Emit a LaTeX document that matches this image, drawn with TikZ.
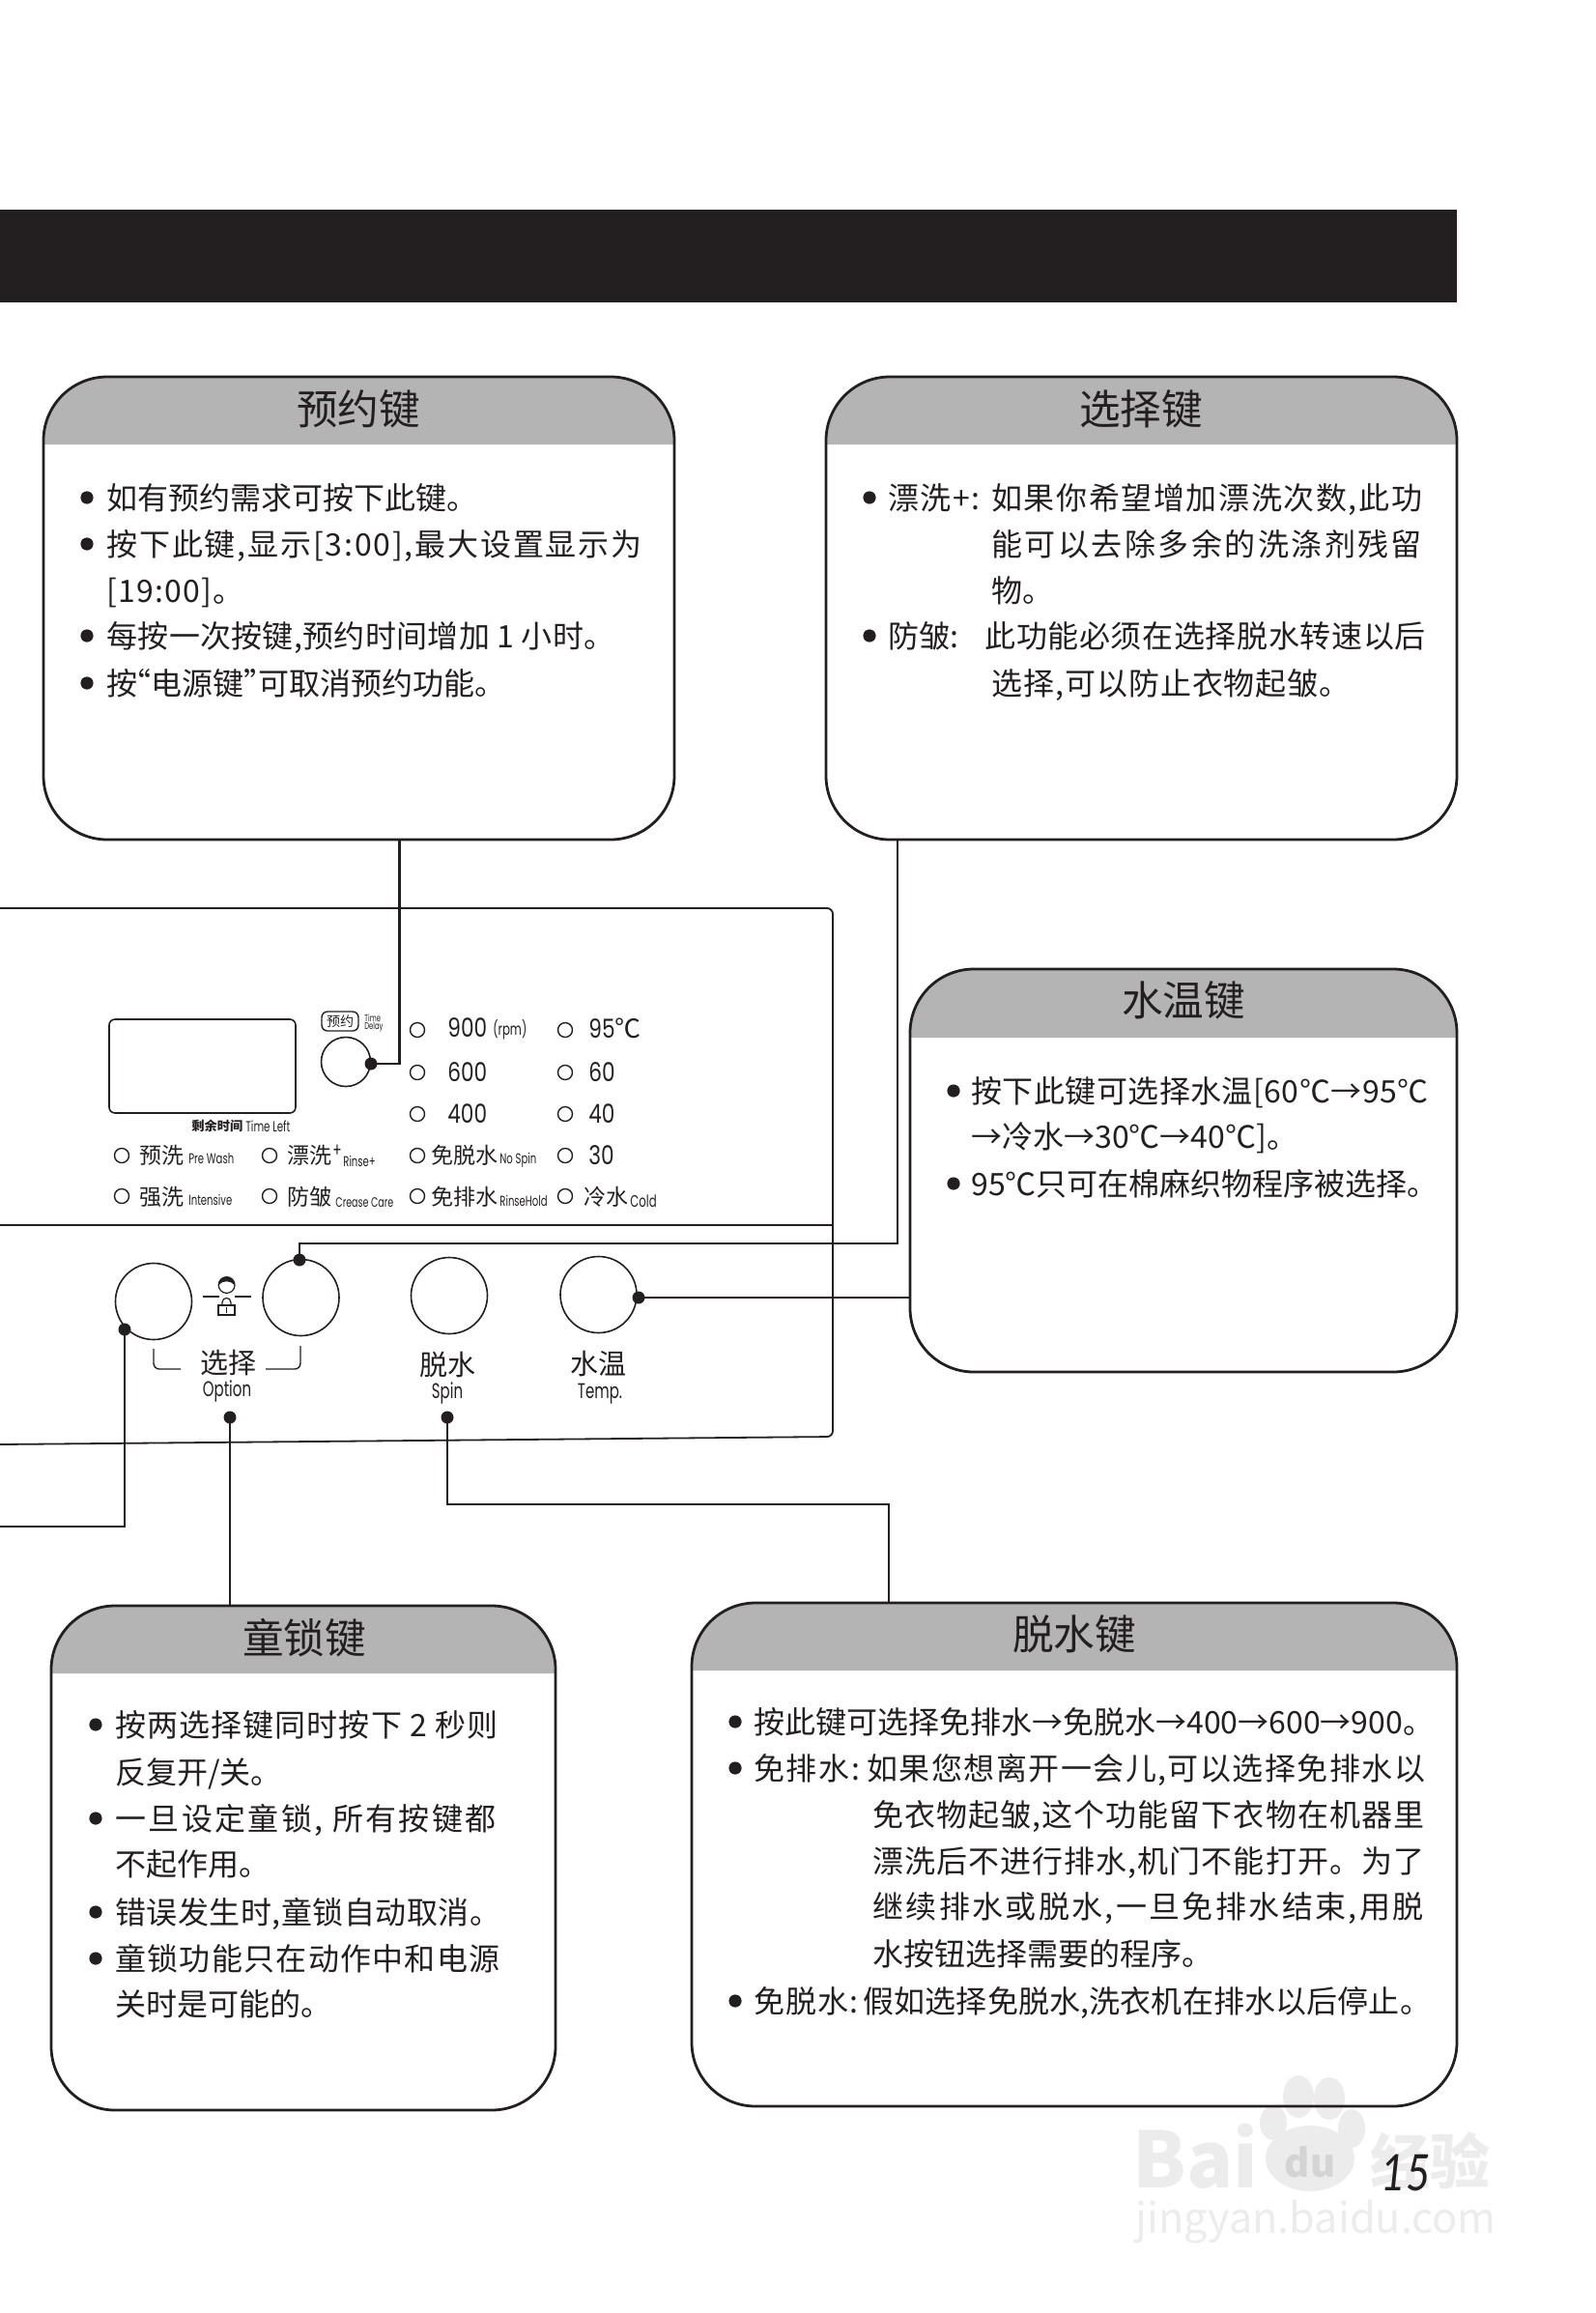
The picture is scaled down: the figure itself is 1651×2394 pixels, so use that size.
\documentclass[tikz,border=0pt]{standalone}
\usepackage{fontspec}
\setmainfont{Noto Sans CJK SC}
\newfontfamily\panelfont[FakeStretch=0.8]{Poppins}
\newfontfamily\tinyfont[FakeStretch=0.68]{Poppins}
\newfontfamily\pagefont[FakeStretch=0.85]{Lato}
\newcommand{\trk}[1]{\addfontfeature{LetterSpace=#1}}
\usepackage{tikz}
\usetikzlibrary{positioning}
\usetikzlibrary{fit}

\definecolor{inkblack}{HTML}{231F20}
\definecolor{headgray}{HTML}{B4B4B4}
\definecolor{markgray}{HTML}{ECECEC}
\definecolor{markdark}{HTML}{D4D4D4}

\tikzset{
    infobox/.style={draw=inkblack, line width=1.4pt, rounded corners=33pt, inner sep=0pt},
    headfill/.style={fill=headgray},
    boxtitle/.style={text=inkblack, font=\fontsize{21.3}{21.3}\selectfont, inner sep=0pt},
    bodytext/.style={text=inkblack, anchor=west, inner sep=0pt, text height=15.5pt, text depth=3pt, font=\fontsize{16}{16}\selectfont},
    lead/.style={draw=inkblack, line width=1.2pt},
    hotdot/.style={circle, fill=inkblack, inner sep=0pt, minimum size=6.5pt},
    knob/.style={circle, draw=inkblack, line width=.8pt, inner sep=0pt, minimum size=39.5pt},
    lamp/.style={circle, draw=inkblack, line width=.7pt, inner sep=0pt, minimum size=7.5pt},
    paneltext/.style={text=inkblack, anchor=west, inner sep=0pt, font=\panelfont\fontsize{13.5}{13.5}\selectfont},
    panelcjk/.style={text=inkblack, anchor=west, inner sep=0pt, font=\fontsize{11.5}{11.5}\selectfont},
    tinytext/.style={text=inkblack, anchor=west, inner sep=0pt, font=\tinyfont\fontsize{7.4}{7.4}\selectfont},
    keycjk/.style={text=inkblack, inner sep=0pt, font=\fontsize{14.5}{14.5}\selectfont},
    keyname/.style={text=inkblack, inner sep=0pt, font=\tinyfont\fontsize{11}{11}\selectfont},
    waterbig/.style={text=markgray, inner sep=0pt, font=\bfseries\fontsize{40}{40}\selectfont},
}

\begin{document}
\begin{tikzpicture}[x=.5pt,y=-.5pt]
    \useasboundingbox (0,0) rectangle (1651,2394);

    % watermark
    \node[waterbig, anchor=west] (markbai) at (1172,2232) {Bai};
    \fill[markgray] (1356,2234) ellipse (23pt and 17pt);
    \fill[markgray] (1344,2170) ellipse (8pt and 11pt);
    \fill[markgray] (1376,2172) ellipse (8pt and 11pt);
    \fill[markgray] (1318,2197) ellipse (7pt and 9pt);
    \fill[markgray] (1399,2203) ellipse (7pt and 10pt);
    \node[text=markdark, inner sep=0pt, font=\bfseries\fontsize{20}{20}\selectfont] (markdu) at (1356,2238) {du};
    \node[waterbig, anchor=west, font=\bfseries\fontsize{31}{31}\selectfont] (markjing) at (1418,2236) {经验};
    \node[waterbig, anchor=center, font=\fontsize{21.6}{21.6}\selectfont] (markurl) at (1362,2300) {jingyan.baidu.com};

    % top bar
    \fill[inkblack] (0,217) rectangle (1508,313);

    % header bands
    \fill[headfill] (45,460) [rounded corners=33pt] -- (45,390) -- (698,390) [sharp corners] -- (698,460) -- cycle;
    \fill[headfill] (855,460) [rounded corners=33pt] -- (855,390) -- (1508,390) [sharp corners] -- (1508,460) -- cycle;
    \fill[headfill] (942,1074) [rounded corners=33pt] -- (942,1003) -- (1508,1003) [sharp corners] -- (1508,1074) -- cycle;
    \fill[headfill] (53,1732) [rounded corners=33pt] -- (53,1662) -- (575,1662) [sharp corners] -- (575,1732) -- cycle;
    \fill[headfill] (716,1729) [rounded corners=33pt] -- (716,1659) -- (1508,1659) [sharp corners] -- (1508,1729) -- cycle;

    % boxes
    \node[infobox, fit={(45,390)(698,869)}] (delaybox) {};
    \node[infobox, fit={(855,390)(1508,869)}] (optionbox) {};
    \node[infobox, fit={(942,1003)(1508,1420)}] (tempbox) {};
    \node[infobox, fit={(53,1662)(575,2184)}] (lockbox) {};
    \node[infobox, fit={(716,1659)(1508,2180)}] (spinbox) {};

    \node[boxtitle] (delaytitle) at (371,423) {预约键};
    \node[boxtitle] (optiontitle) at (1181,423) {选择键};
    \node[boxtitle] (temptitle) at (1225,1035) {水温键};
    \node[boxtitle] (locktitle) at (315,1695) {童锁键};
    \node[boxtitle] (spintitle) at (1112,1691) {脱水键};

    % delay box text
    \foreach \y in {515,563,658,707}
        \fill[inkblack] (90,\y) circle[radius=3.3pt];
    \node[bodytext] (delayA) at (110,515) {如有预约需求可按下此键。};
    \node[bodytext] (delayB) at (110,563) {\trk{5.7}按下此键,显示[3:00],最大设置显示为};
    \node[bodytext] (delayC) at (110,611) {\trk{4}[19:00]。};
    \node[bodytext] (delayD) at (110,658) {\trk{1}每按一次按键,预约时间增加 1 小时。};
    \node[bodytext] (delayE) at (110,707) {按\hspace{-.55em}“电源键”\hspace{-.55em}可取消预约功能。};

    % option box text
    \foreach \y in {515,658}
        \fill[inkblack] (900,\y) circle[radius=3.3pt];
    \node[bodytext] (optionA) at (919,515) {\trk{5}漂洗+:};
    \node[bodytext] (optionB) at (1026,515) {\trk{5}如果你希望增加漂洗次数,此功};
    \node[bodytext] (optionC) at (1026,563) {\trk{7.7}能可以去除多余的洗涤剂残留};
    \node[bodytext] (optionD) at (1026,611) {物。};
    \node[bodytext] (optionE) at (919,658) {防皱:};
    \node[bodytext] (optionF) at (1019,658) {\trk{2}此功能必须在选择脱水转速以后};
    \node[bodytext] (optionG) at (1026,707) {\trk{3}选择,可以防止衣物起皱。};

    % temp box text
    \foreach \y in {1129,1225}
        \fill[inkblack] (987,\y) circle[radius=3.3pt];
    \node[bodytext] (tempA) at (1005,1129) {\trk{1.4}按下此键可选择水温[60℃→95℃};
    \node[bodytext] (tempB) at (1005,1176) {→冷水→30℃→40℃]。};
    \node[bodytext] (tempC) at (1005,1225) {95℃只可在棉麻织物程序被选择。};

    % lock box text
    \foreach \y in {1785,1882,1979,2027}
        \fill[inkblack] (99,\y) circle[radius=3.3pt];
    \node[bodytext] (lockA) at (119,1785) {\trk{3.4}按两选择键同时按下 2 秒则};
    \node[bodytext] (lockB) at (119,1834) {反复开/关。};
    \node[bodytext] (lockC) at (119,1882) {\trk{7.4}一旦设定童锁, 所有按键都};
    \node[bodytext] (lockD) at (119,1929) {不起作用。};
    \node[bodytext] (lockE) at (119,1979) {\trk{1.5}错误发生时,童锁自动取消。};
    \node[bodytext] (lockF) at (119,2027) {\trk{4}童锁功能只在动作中和电源};
    \node[bodytext] (lockG) at (119,2074) {关时是可能的。};

    % spin box text
    \foreach \y in {1782,1830,2071}
        \fill[inkblack] (761,\y) circle[radius=3.3pt];
    \node[bodytext] (spinA) at (780,1782) {按此键可选择免排水→免脱水→400→600→900。};
    \node[bodytext] (spinB) at (780,1830) {\trk{5}免排水:};
    \node[bodytext] (spinC) at (897,1830) {\trk{4.6}如果您想离开一会儿,可以选择免排水以};
    \node[bodytext] (spinD) at (903,1878) {\trk{3.3}免衣物起皱,这个功能留下衣物在机器里};
    \node[bodytext] (spinE) at (903,1926) {\trk{3.3}漂洗后不进行排水,机门不能打开。为了};
    \node[bodytext] (spinF) at (903,1973) {\trk{7.4}继续排水或脱水,一旦免排水结束,用脱};
    \node[bodytext] (spinG) at (903,2022) {水按钮选择需要的程序。};
    \node[bodytext] (spinH) at (780,2071) {\trk{3}免脱水:};
    \node[bodytext] (spinI) at (893,2071) {\trk{.5}假如选择免脱水,洗衣机在排水以后停止。};

    % panel
    \draw[draw=inkblack, line width=.9pt, rounded corners=3pt] (0,940) -- (862,940) -- (862,1487) -- (0,1495);
    \draw[draw=inkblack, line width=1.1pt] (0,1268) -- (862,1268);
    \draw[draw=inkblack, line width=.8pt, rounded corners=3pt] (113,1055) rectangle (306,1152);

    \node[text=inkblack, anchor=west, inner sep=0pt, font=\bfseries\fontsize{6.6}{6.6}\selectfont] (leftcn) at (198,1165) {剩余时间};
    \node[tinytext, font=\tinyfont\fontsize{7.6}{7.6}\selectfont] (leften) at (254,1166) {Time Left};
    \node[draw=inkblack, line width=.7pt, rounded corners=3pt, inner sep=0pt, minimum width=19pt, minimum height=10pt, text=inkblack, font=\fontsize{7}{7}\selectfont] (delaytag) at (352,1057) {预约};
    \node[tinytext, font=\tinyfont\fontsize{5}{5}\selectfont] (delaytagA) at (377,1054) {Time};
    \node[tinytext, font=\tinyfont\fontsize{5}{5}\selectfont] (delaytagB) at (377,1063) {Delay};

    % lamps
    \foreach \n/\x/\y in {a/432/1066,b/432/1110,c/432/1153,d/432/1196,e/432/1238,f/585/1066,g/585/1110,h/585/1153,i/585/1196,j/585/1238,k/126/1196,l/126/1238,m/279/1196,n/279/1238}
        \node[lamp] (lamp\n) at (\x,\y) {};

    \node[paneltext] (rpmA) at (463,1064) {900};
    \node[tinytext, font=\tinyfont\fontsize{8.6}{8.6}\selectfont] (rpmunit) at (510,1066) {(rpm)};
    \node[paneltext] (rpmB) at (463,1110) {600};
    \node[paneltext] (rpmC) at (463,1153) {400};
    \node[paneltext] (degA) at (609,1064) {95{\normalfont ℃}};
    \node[paneltext] (degB) at (609,1110) {60};
    \node[paneltext] (degC) at (609,1153) {40};
    \node[paneltext] (degD) at (609,1196) {30};

    \node[panelcjk] (washA) at (144,1196) {预洗};
    \node[tinytext] (washAen) at (195,1199) {Pre Wash};
    \node[panelcjk] (washB) at (144,1239) {强洗};
    \node[tinytext] (washBen) at (195,1242) {Intensive};
    \node[panelcjk] (rinseA) at (297,1196) {漂洗};
    \node[tinytext, font=\tinyfont\fontsize{10}{10}\selectfont] (rinseAplus) at (344,1191) {+};
    \node[tinytext] (rinseAen) at (355,1202) {Rinse+};
    \node[panelcjk] (rinseB) at (297,1239) {防皱};
    \node[tinytext, font=\tinyfont\fontsize{7}{7}\selectfont] (rinseBen) at (347,1245) {Crease Care};
    \node[panelcjk] (spinlampA) at (446,1196) {免脱水};
    \node[tinytext] (spinlampAen) at (517,1201) {No Spin};
    \node[panelcjk] (spinlampB) at (446,1239) {免排水};
    \node[tinytext] (spinlampBen) at (517,1243) {RinseHold};
    \node[panelcjk] (coldcn) at (604,1239) {冷水};
    \node[tinytext, font=\tinyfont\fontsize{8.6}{8.6}\selectfont] (colden) at (652,1243) {Cold};

    % knobs
    \node[knob, minimum size=25.5pt] (delayknob) at (358,1099) {};
    \node[knob] (leftknob) at (159,1347) {};
    \node[knob] (rightknob) at (311.5,1343) {};
    \node[knob] (spinknob) at (465,1341) {};
    \node[knob] (tempknob) at (619.5,1340) {};

    % child lock sign
    \draw[draw=inkblack, line width=.6pt] (210,1342) -- (227,1342);
    \draw[draw=inkblack, line width=.6pt] (243,1342) -- (260,1342);
    \draw[draw=inkblack, line width=.6pt] (234.6,1330) circle[radius=4.2pt];
    \fill[inkblack] (226.5,1330) .. controls (227,1319) and (242,1319) .. (242.7,1330) .. controls (239,1325) and (230,1325) .. (226.5,1330);
    \draw[draw=inkblack, line width=.6pt] (226,1351) rectangle (243,1361);
    \draw[draw=inkblack, line width=.6pt] (230,1351) -- (230,1348) .. controls (230,1342) and (239,1342) .. (239,1348) -- (239,1351);
    \draw[draw=inkblack, line width=.7pt] (234.5,1353) -- (234.5,1359);

    % option bracket
    \draw[draw=inkblack, line width=.7pt, rounded corners=3pt] (159,1396) -- (159,1417) -- (187,1417);
    \draw[draw=inkblack, line width=.7pt, rounded corners=3pt] (275,1417) -- (311,1417) -- (311,1393);

    \node[keycjk] (optioncn) at (236,1411) {选择};
    \node[keyname] (optionen) at (235,1440) {Option};
    \node[keycjk] (spincn) at (463,1412) {脱水};
    \node[keyname] (spinen) at (463,1442) {Spin};
    \node[keycjk] (tempcn) at (619,1412) {水温};
    \node[keyname] (tempen) at (621,1443) {Temp.};

    % connector dots
    \node[hotdot] (delaydot) at (384,1101) {};
    \node[hotdot] (rightdot) at (310,1304) {};
    \node[hotdot] (tempdot) at (661,1343) {};
    \node[hotdot] (leftdot) at (129,1376) {};
    \node[hotdot] (optiondot) at (238,1467) {};
    \node[hotdot] (spindot) at (463,1467) {};

    \coordinate (delayfoot) at (413.5,869);
    \coordinate (optionfoot) at (929,869);
    \coordinate (tempside) at (942,1343);
    \coordinate (leftend) at (0,1580);
    \coordinate (lockhead) at (238,1662);
    \coordinate (spinhead) at (920,1659);
    \coordinate (spinbend) at (463,1557);

    \draw[lead] (delaydot.center) -| (delayfoot);
    \draw[lead] (rightdot.center) |- (optionfoot |- 0,1287) -- (optionfoot);
    \draw[lead] (tempdot.center) -- (tempside);
    \draw[lead] (leftdot.center) |- (leftend);
    \draw[lead] (optiondot.center) -- (lockhead);
    \draw[lead] (spindot.center) -- (spinbend) -| (spinhead);

    % page number
    \node[text=inkblack, inner sep=0pt, font=\pagefont\itshape\fontsize{26}{26}\selectfont] (pagenum) at (1455,2249) {15};
\end{tikzpicture}
\end{document}
